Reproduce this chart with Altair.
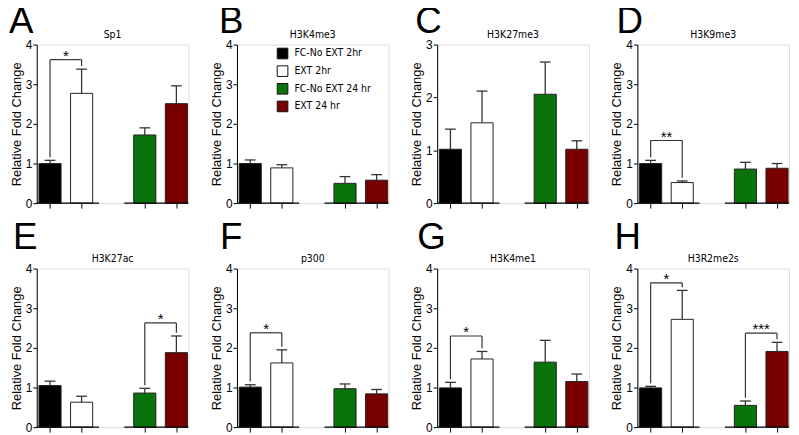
import altair as alt
import pandas as pd

letters = ["A", "B", "C", "D", "E", "F", "G", "H"]
targets = ["Sp1", "H3K4me3", "H3K27me3", "H3K9me3", "H3K27ac", "p300", "H3K4me1", "H3R2me2s"]
groups = ["FC-No EXT 2hr", "EXT 2hr", "FC-No EXT 24 hr", "EXT 24 hr"]
colors = ["#000000", "#ffffff", "#0b730b", "#7a0000"]
positions = [0, 1, 3, 4]
y_max = [4, 4, 3, 4, 4, 4, 4, 4]

mean_sp1 = [1.00, 2.77, 1.72, 2.51]
mean_h3k4me3 = [1.00, 0.89, 0.50, 0.58]
mean_h3k27me3 = [1.02, 1.52, 2.06, 1.02]
mean_h3k9me3 = [1.00, 0.52, 0.86, 0.88]
mean_h3k27ac = [1.05, 0.63, 0.86, 1.88]
mean_p300 = [1.01, 1.62, 0.97, 0.84]
mean_h3k4me1 = [0.99, 1.72, 1.64, 1.15]
mean_h3r2me2s = [0.99, 2.72, 0.55, 1.91]

top_sp1 = [1.08, 3.38, 1.90, 2.96]
top_h3k4me3 = [1.09, 0.97, 0.67, 0.72]
top_h3k27me3 = [1.40, 2.12, 2.67, 1.18]
top_h3k9me3 = [1.08, 0.56, 1.03, 1.00]
top_h3k27ac = [1.16, 0.78, 0.98, 2.30]
top_p300 = [1.07, 1.95, 1.09, 0.95]
top_h3k4me1 = [1.13, 1.91, 2.19, 1.34]
top_h3r2me2s = [1.03, 3.45, 0.66, 2.14]

means = [mean_sp1, mean_h3k4me3, mean_h3k27me3, mean_h3k9me3,
         mean_h3k27ac, mean_p300, mean_h3k4me1, mean_h3r2me2s]
tops = [top_sp1, top_h3k4me3, top_h3k27me3, top_h3k9me3,
        top_h3k27ac, top_p300, top_h3k4me1, top_h3r2me2s]

# significance brackets
br_panel = [0, 3, 4, 5, 6, 7, 7]
br_left = [0, 0, 2, 0, 0, 0, 2]
br_right = [1, 1, 3, 1, 1, 1, 3]
br_level = [3.62, 1.58, 2.63, 2.38, 2.30, 3.64, 2.37]
br_label = ["*", "**", "*", "*", "*", "*", "***"]

# broken x-axis segments (data units)
seg_start = [-0.42, 2.35]
seg_end = [1.55, 4.38]

W, H = 153, 160
X_DOMAIN = [-0.42, 4.38]
NARROW = "Liberation Sans Narrow, DejaVu Sans Condensed, Liberation Sans"
SANS = "Liberation Sans, Arial, sans-serif"
letter_dx = [-28, -18, -22, -21, -24, -17, -20, -23]
letter_dy = [-12, -12, -12, -12, -20, -20, -20, -20]


def panel(i):
    df = pd.DataFrame({"group": groups, "pos": positions,
                       "mean": means[i], "top": tops[i]})
    xs = alt.Scale(domain=X_DOMAIN, nice=False, zero=False)
    ys = alt.Scale(domain=[0, y_max[i]], nice=False)
    yaxis = alt.Axis(values=list(range(y_max[i] + 1)), title="Relative Fold Change",
                     grid=False, tickSize=4, labelFontSize=12, labelFont=SANS,
                     titleFont=SANS, titleFontSize=13, titleFontWeight="normal",
                     titlePadding=2, labelPadding=1, domainColor="black",
                     tickColor="black", labelColor="black", titleColor="black",
                     labelOverlap=False, labelFlush=False, labelSeparation=0)
    xaxis = alt.Axis(values=positions, labels=False, domain=False, ticks=True,
                     tickSize=5, tickColor="black", grid=False, title=None)
    if i == 1:
        legend = alt.Legend(orient="none", legendX=40, legendY=3, title=None,
                            symbolType="square", symbolSize=115,
                            symbolStrokeColor="#111", symbolStrokeWidth=1,
                            labelFont=NARROW, labelFontSize=10.5, labelColor="black",
                            rowPadding=1.8, labelOffset=6)
    else:
        legend = None
    base = alt.Chart(df)
    bars = base.transform_calculate(
        xl="datum.pos - 0.35", xr="datum.pos + 0.35"
    ).mark_bar(stroke="#222", strokeWidth=1).encode(
        x=alt.X("xl:Q", scale=xs, axis=xaxis),
        x2="xr:Q",
        y=alt.Y("mean:Q", scale=ys, axis=yaxis),
        y2=alt.datum(0),
        fill=alt.Fill("group:N", scale=alt.Scale(domain=groups, range=colors),
                      legend=legend),
    )
    stems = base.mark_rule(color="#333", strokeWidth=1.3).encode(
        x=alt.X("pos:Q", scale=xs, axis=xaxis),
        y=alt.Y("mean:Q", scale=ys, axis=yaxis),
        y2="top:Q",
    )
    caps = base.transform_calculate(
        cl="datum.pos - 0.17", cr="datum.pos + 0.17"
    ).mark_rule(color="#333", strokeWidth=1.3).encode(
        x=alt.X("cl:Q", scale=xs, axis=xaxis),
        x2="cr:Q",
        y=alt.Y("top:Q", scale=ys, axis=yaxis),
    )
    segs = alt.Chart(pd.DataFrame({"s": seg_start, "e": seg_end, "z": [0, 0]})).mark_rule(
        color="black", strokeWidth=1.2).encode(
        x=alt.X("s:Q", scale=xs, axis=xaxis),
        x2="e:Q",
        y=alt.Y("z:Q", scale=ys, axis=yaxis),
    )
    layers = [bars, stems, caps, segs]

    # brackets
    xa, xb, ya, yb = [], [], [], []
    sx, sy, sl = [], [], []
    gap = 0.08
    for k in range(len(br_panel)):
        if br_panel[k] != i:
            continue
        l, r, lev = br_left[k], br_right[k], br_level[k]
        pl, pr = positions[l], positions[r]
        xa += [pl, pr, pl]
        xb += [pl, pr, pr]
        ya += [lev, lev, lev]
        yb += [tops[i][l] + gap, tops[i][r] + gap, lev]
        sx.append((pl + pr) / 2)
        sy.append(lev)
        sl.append(br_label[k])
    if xa:
        bdf = pd.DataFrame({"xa": xa, "xb": xb, "ya": ya, "yb": yb})
        layers.append(alt.Chart(bdf).mark_rule(color="#333", strokeWidth=1.2).encode(
            x=alt.X("xa:Q", scale=xs, axis=xaxis), x2="xb:Q",
            y=alt.Y("ya:Q", scale=ys, axis=yaxis), y2="yb:Q"))
        sdf = pd.DataFrame({"x": sx, "y": sy, "t": sl})
        layers.append(alt.Chart(sdf).mark_text(
            fontSize=15, font=SANS, baseline="alphabetic", dy=1, color="black").encode(
            x=alt.X("x:Q", scale=xs, axis=xaxis),
            y=alt.Y("y:Q", scale=ys, axis=yaxis),
            text="t:N"))

    tdf = pd.DataFrame({"letter": [letters[i]], "name": [targets[i]]})
    layers.append(alt.Chart(tdf).mark_text(
        fontSize=37, font=SANS, align="left", baseline="alphabetic", color="black").encode(
        x=alt.value(letter_dx[i]), y=alt.value(letter_dy[i]), text="letter:N"))
    layers.append(alt.Chart(tdf).mark_text(
        fontSize=10.5, font=NARROW, align="center", baseline="alphabetic", color="black").encode(
        x=alt.value(W / 2), y=alt.value(-7), text="name:N"))
    return alt.layer(*layers).properties(width=W, height=H)


row1 = alt.hconcat(*[panel(i) for i in range(4)], spacing=19).resolve_scale(fill="independent")
row2 = alt.hconcat(*[panel(i) for i in range(4, 8)], spacing=19).resolve_scale(fill="independent")
chart = alt.vconcat(row1, row2, spacing=8).resolve_scale(fill="independent").properties(
    padding={"left": 0, "top": -8, "right": 0, "bottom": 0}
).configure_view(stroke=None).configure_axis(labelOverlap=False).configure(background="white")

chart.save("out.html", embed_options={"renderer": "svg", "actions": False})
